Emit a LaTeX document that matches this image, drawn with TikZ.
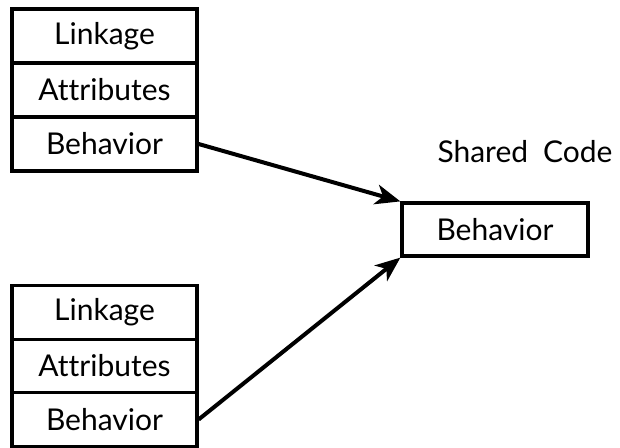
\documentclass[tikz,border=0pt]{standalone}
\usepackage{fontspec}
\setmainfont{Lato}[Ligatures=NoCommon]
\usetikzlibrary{arrows.meta}
\begin{document}
\begin{tikzpicture}[x=1pt,y=-1pt,
  label text/.style={font=\fontsize{30}{33}\selectfont},
  cell/.style={draw,line width=3.2pt,minimum width=185pt,minimum height=54pt,
    inner sep=0pt,label text},
  link/.style={line width=4pt,-{Stealth[length=25pt,width=20pt,inset=7pt]}}]
  \useasboundingbox (0,0) rectangle (620,447);
  % first object: linkage, attributes, behavior
  \node[cell] (l1) at (104.5,36) {Linkage};
  \node[cell] (a1) at (104.5,90) {Attributes};
  \node[cell] (b1) at (104.5,144) {Behavior};
  % second object
  \node[cell,minimum height=53.5pt] (l2) at (104.5,312.5) {Linkage};
  \node[cell,minimum height=53.5pt] (a2) at (104.5,366) {Attributes};
  \node[cell,minimum height=53.5pt] (b2) at (104.5,419.5) {Behavior};
  % shared behavior
  \node[cell,minimum width=186pt,minimum height=53pt] (s) at (495,229.5) {Behavior};
  \node[label text,inner sep=0pt] (t) at (525,152) {Shared\hspace{0.5em}Code};
  \draw[link] (b1.east) -- (s.north west);
  \draw[link] (b2.east) -- (s.south west);
\end{tikzpicture}
\end{document}
